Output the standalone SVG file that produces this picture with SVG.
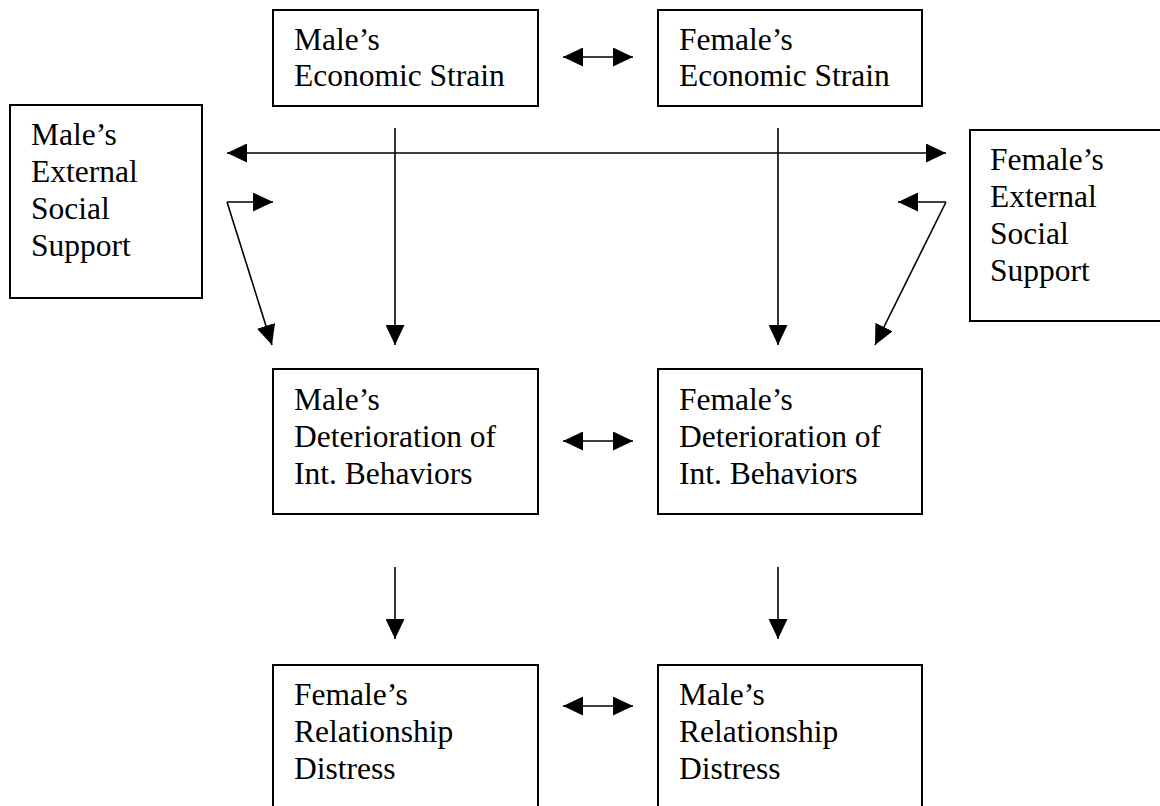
<svg xmlns="http://www.w3.org/2000/svg" width="1160" height="806" viewBox="0 0 1160 806">
<style>
.box{fill:#fff;stroke:#000;stroke-width:2}
.t{font-family:"Liberation Serif","Times New Roman",serif;font-size:31.5px;fill:#000}
.c{fill:none;stroke:#000;stroke-width:1.6}
</style>
<defs>
<marker id="ah" viewBox="0 0 20 19" refX="20" refY="9.5" markerWidth="20" markerHeight="19" markerUnits="userSpaceOnUse" orient="auto-start-reverse">
<path d="M0,0 L20,9.5 L0,19 Z" fill="#000"/>
</marker>
</defs>
<rect width="1160" height="806" fill="#fff"/>
<g id="male-econ">
<rect class="box" x="273" y="10" width="265" height="96"/>
<text class="t" x="294" y="50">Male’s</text>
<text class="t" x="294" y="86">Economic Strain</text>
</g>
<g id="female-econ">
<rect class="box" x="658" y="10" width="264" height="96"/>
<text class="t" x="679" y="50">Female’s</text>
<text class="t" x="679" y="86">Economic Strain</text>
</g>
<g id="male-support">
<rect class="box" x="10" y="105" width="192" height="193"/>
<text class="t" x="31" y="145">Male’s</text>
<text class="t" x="31" y="182">External</text>
<text class="t" x="31" y="219">Social</text>
<text class="t" x="31" y="256">Support</text>
</g>
<g id="female-support">
<rect class="box" x="970" y="130" width="210" height="191"/>
<text class="t" x="990" y="170">Female’s</text>
<text class="t" x="990" y="207">External</text>
<text class="t" x="990" y="244">Social</text>
<text class="t" x="990" y="281">Support</text>
</g>
<g id="male-det">
<rect class="box" x="273" y="369" width="265" height="145"/>
<text class="t" x="294" y="410">Male’s</text>
<text class="t" x="294" y="447">Deterioration of</text>
<text class="t" x="294" y="484">Int. Behaviors</text>
</g>
<g id="female-det">
<rect class="box" x="658" y="369" width="264" height="145"/>
<text class="t" x="679" y="410">Female’s</text>
<text class="t" x="679" y="447">Deterioration of</text>
<text class="t" x="679" y="484">Int. Behaviors</text>
</g>
<g id="female-distress">
<rect class="box" x="273" y="665" width="265" height="160"/>
<text class="t" x="294" y="705">Female’s</text>
<text class="t" x="294" y="742">Relationship</text>
<text class="t" x="294" y="779">Distress</text>
</g>
<g id="male-distress">
<rect class="box" x="658" y="665" width="264" height="160"/>
<text class="t" x="679" y="705">Male’s</text>
<text class="t" x="679" y="742">Relationship</text>
<text class="t" x="679" y="779">Distress</text>
</g>
<g id="connectors">
<line class="c" x1="563" y1="57" x2="633" y2="57" marker-start="url(#ah)" marker-end="url(#ah)"/>
<line class="c" x1="227" y1="153" x2="946" y2="153" marker-start="url(#ah)" marker-end="url(#ah)"/>
<line class="c" x1="395" y1="128" x2="395" y2="345" marker-end="url(#ah)"/>
<line class="c" x1="778" y1="128" x2="778" y2="345" marker-end="url(#ah)"/>
<line class="c" x1="227" y1="202" x2="273" y2="202" marker-end="url(#ah)"/>
<line class="c" x1="227" y1="202" x2="272" y2="345" marker-end="url(#ah)"/>
<line class="c" x1="946" y1="202" x2="898" y2="202" marker-end="url(#ah)"/>
<line class="c" x1="946" y1="202" x2="875" y2="345" marker-end="url(#ah)"/>
<line class="c" x1="563" y1="441" x2="633" y2="441" marker-start="url(#ah)" marker-end="url(#ah)"/>
<line class="c" x1="395" y1="567" x2="395" y2="639" marker-end="url(#ah)"/>
<line class="c" x1="778" y1="567" x2="778" y2="639" marker-end="url(#ah)"/>
<line class="c" x1="563" y1="706" x2="633" y2="706" marker-start="url(#ah)" marker-end="url(#ah)"/>
</g>
</svg>
